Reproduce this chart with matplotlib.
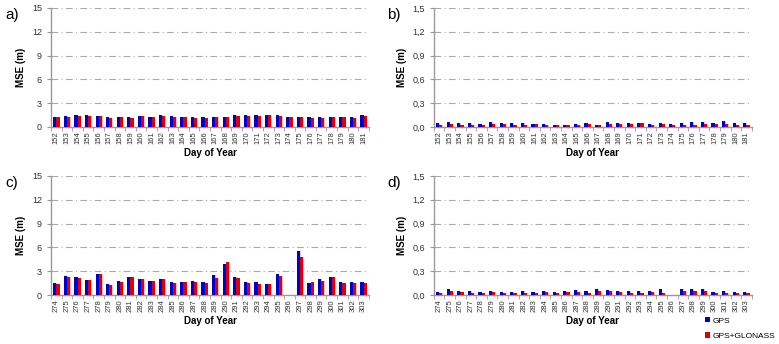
import numpy as np
import matplotlib.pyplot as plt
from matplotlib.ticker import FixedLocator, FuncFormatter

plt.rcParams["font.family"] = ["Liberation Sans", "DejaVu Sans"]

nan = np.nan

# --- données ---
days_ab = list(range(152, 182))
days_cd = list(range(274, 304))

gps_a = [1.3, 1.4, 1.5, 1.5, 1.4, 1.3, 1.3, 1.2, 1.4, 1.3,
         1.5, 1.4, 1.3, 1.3, 1.2, 1.2, 1.3, 1.5, 1.5, 1.5,
         1.5, 1.5, 1.3, 1.3, 1.2, 1.3, 1.3, 1.3, 1.3, 1.5]
glo_a = [1.2, 1.2, 1.4, 1.4, 1.4, 1.1, 1.2, 1.1, 1.4, 1.2,
         1.4, 1.3, 1.2, 1.1, 1.1, 1.2, 1.2, 1.4, 1.4, 1.4,
         1.5, 1.4, 1.2, 1.2, 1.1, 1.1, 1.2, 1.2, 1.1, 1.4]

gps_b = [0.05, 0.06, 0.05, 0.05, 0.04, 0.06, 0.05, 0.05, 0.05, 0.04,
         0.04, 0.03, 0.03, 0.04, 0.05, 0.03, 0.06, 0.05, 0.05, 0.05,
         0.04, 0.05, 0.04, 0.05, 0.06, 0.06, 0.05, 0.07, 0.05, 0.05]
glo_b = [0.03, 0.04, 0.03, 0.03, 0.03, 0.04, 0.04, 0.03, 0.03, 0.04,
         0.03, 0.02, 0.02, 0.03, 0.04, 0.02, 0.04, 0.04, 0.04, 0.05,
         0.03, 0.04, 0.03, 0.03, 0.03, 0.04, 0.04, 0.04, 0.03, 0.03]

gps_c = [1.5, 2.4, 2.3, 1.9, 2.6, 1.4, 1.8, 2.3, 2.0, 1.8,
         2.0, 1.6, 1.7, 1.8, 1.6, 2.5, 3.9, 2.3, 1.6, 1.7,
         1.4, 2.6, nan, 5.5, 1.5, 2.0, 2.3, 1.6, 1.7, 1.6]
glo_c = [1.4, 2.3, 2.2, 1.9, 2.6, 1.3, 1.7, 2.3, 2.0, 1.8,
         2.0, 1.5, 1.6, 1.7, 1.5, 2.1, 4.1, 2.2, 1.5, 1.4,
         1.4, 2.4, nan, 4.75, 1.6, 1.8, 2.3, 1.5, 1.5, 1.5]

gps_d = [0.04, 0.07, 0.05, 0.05, 0.04, 0.05, 0.04, 0.04, 0.05, 0.04,
         0.05, 0.04, 0.05, 0.06, 0.05, 0.08, 0.06, 0.05, 0.05, 0.05,
         0.05, 0.07, nan, 0.08, 0.07, 0.07, 0.04, 0.05, 0.04, 0.04]
glo_d = [0.03, 0.05, 0.04, 0.03, 0.03, 0.04, 0.03, 0.03, 0.03, 0.03,
         0.04, 0.03, 0.04, 0.04, 0.03, 0.05, 0.05, 0.04, 0.03, 0.03,
         0.04, 0.03, nan, 0.05, 0.05, 0.05, 0.03, 0.03, 0.03, 0.03]

yticks_big = [0, 3, 6, 9, 12, 15]
yticks_small = [0.0, 0.3, 0.6, 0.9, 1.2, 1.5]

BLUE = "#0000cc"
RED = "#dd0000"
GREY = "#999999"

fig = plt.figure(figsize=(7.79, 3.44), dpi=100)

W = 0.408
H = 0.346
panels = [
    ("a)", [0.0655, 0.631, W, H], days_ab, gps_a, glo_a, yticks_big, "{:.0f}"),
    ("b)", [0.557, 0.631, W, H], days_ab, gps_b, glo_b, yticks_small, "{:.1f}"),
    ("c)", [0.0655, 0.1424, W, H], days_cd, gps_c, glo_c, yticks_big, "{:.0f}"),
    ("d)", [0.557, 0.1424, W, H], days_cd, gps_d, glo_d, yticks_small, "{:.1f}"),
]

for lab, rect, days, g1, g2, yt, fmt in panels:
    ax = fig.add_axes(rect)
    x = np.arange(len(days))
    bw = 0.3
    # ombre légère façon Excel
    ax.bar(x - bw / 2 + 0.06, g1, bw, color="#c8c8f0", zorder=2)
    ax.bar(x + bw / 2 + 0.06, g2, bw, color="#f2c4c4", zorder=2)
    ax.bar(x - bw / 2, g1, bw, color=BLUE, label="GPS", zorder=3)
    ax.bar(x + bw / 2, g2, bw, color=RED, label="GPS+GLONASS", zorder=3)

    ax.set_xlim(-0.5, len(days) - 0.5)
    ax.set_ylim(yt[0], yt[-1])
    ax.set_yticks(yt)
    ax.yaxis.set_major_formatter(FuncFormatter(lambda v, p, f=fmt: f.format(v).replace(".", ",")))
    ax.set_xticks(x)
    ax.set_xticklabels([str(d) for d in days], rotation=90, fontsize=5.5, color="#333333")
    ax.xaxis.set_minor_locator(FixedLocator(np.arange(-0.5, len(days), 1.0)))
    ax.tick_params(axis="x", which="major", length=0, pad=3)
    ax.tick_params(axis="x", which="minor", length=3, color=GREY)
    ax.tick_params(axis="y", labelsize=6.5, length=3, color=GREY, labelcolor="#333333")

    for v in yt[1:]:
        ax.axhline(v, color="#aaaaaa", linestyle=(0, (6, 3, 1, 3)), linewidth=0.8, zorder=1)

    for s in ["top", "right"]:
        ax.spines[s].set_visible(False)
    for s in ["left", "bottom"]:
        ax.spines[s].set_color(GREY)
        ax.spines[s].set_linewidth(1.0)

    ax.set_xlabel("Day of Year", fontsize=7, fontweight="bold", labelpad=3)
    ax.set_ylabel("MSE (m)", fontsize=7, fontweight="bold", labelpad=4)

    fx = rect[0] - 0.058 if lab in ("a)", "c)") else rect[0] - 0.06
    fig.text(fx, rect[1] + rect[3] - 0.04, lab, fontsize=11, ha="left", va="bottom")

handles, labels = ax.get_legend_handles_labels()
fig.legend(handles, labels, loc="lower right", bbox_to_anchor=(1.0, 0.0),
           fontsize=6, frameon=False, handlelength=0.6, handleheight=0.6,
           handletextpad=0.3, labelspacing=0.9, borderpad=0.3, borderaxespad=0.2)

fig.savefig("out.png", dpi=100)
